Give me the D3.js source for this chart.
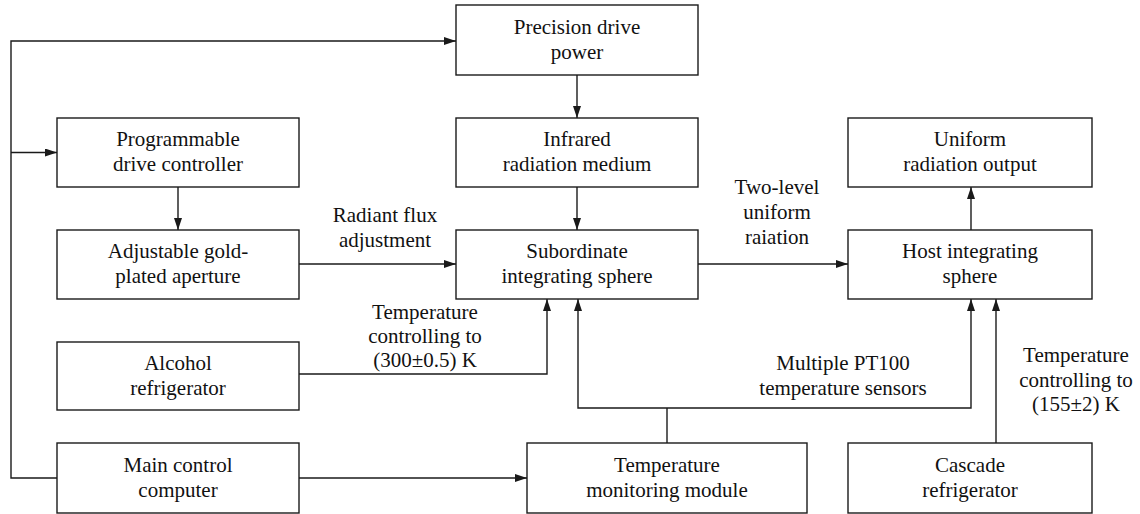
<!DOCTYPE html>
<html>
<head>
<meta charset="utf-8">
<script src="https://cdn.jsdelivr.net/npm/d3@7"></script>
<style>
  html, body { margin: 0; padding: 0; background: #fff; }
  svg { display: block; }
</style>
</head>
<body>
<svg id="chart" width="1140" height="514"></svg>
<script>
// ---- data ----
const nodeIds = ["power", "controller", "medium", "output", "aperture", "sub", "host", "alcohol", "computer", "monitor", "cascade"];
const nodeLabels = [
  ["Precision drive", "power"],
  ["Programmable", "drive controller"],
  ["Infrared", "radiation medium"],
  ["Uniform", "radiation output"],
  ["Adjustable gold-", "plated aperture"],
  ["Subordinate", "integrating sphere"],
  ["Host integrating", "sphere"],
  ["Alcohol", "refrigerator"],
  ["Main control", "computer"],
  ["Temperature", "monitoring module"],
  ["Cascade", "refrigerator"]
];
const edgeLabels = [
  ["Radiant flux", "adjustment"],
  ["Two-level", "uniform", "raiation"],
  ["Temperature", "controlling to", "(300±0.5) K"],
  ["Multiple PT100", "temperature sensors"],
  ["Temperature", "controlling to", "(155±2) K"]
];

// ---- layout (kept separate from the data) ----
const colKeys = ["c0", "c1", "c2", "cm"];
const colLeft = [57, 456, 848, 527];
const colWidth = [242, 242, 244, 280];
const rowKeys = [0, 1, 2, 3, 4];
const rowTop = [5, 118, 230, 342, 443];
const rowH = [70, 69, 69, 68, 70];
const nodeCol = ["c1", "c0", "c1", "c2", "c0", "c1", "c2", "c0", "c0", "cm", "c2"];
const nodeRow = [0, 1, 1, 1, 2, 2, 2, 3, 4, 4, 4];

const xL = d3.scaleOrdinal(colKeys, colLeft);
const xW = d3.scaleOrdinal(colKeys, colWidth);
const yT = d3.scaleOrdinal(rowKeys, rowTop);
const yH = d3.scaleOrdinal(rowKeys, rowH);

const nodes = nodeIds.map((id, i) => {
  const x = xL(nodeCol[i]), w = xW(nodeCol[i]), y = yT(nodeRow[i]), h = yH(nodeRow[i]);
  return {id, lines: nodeLabels[i], x, y, w, h, cx: x + w / 2, cy: y + h / 2, r: x + w, b: y + h};
});
const N = Object.fromEntries(nodes.map(n => [n.id, n]));

const busX = 11, topY = 41;
const tempBusY = 408;
const ctrlArrowY = N.controller.cy;
const edges = [
  {pts: [[N.computer.x, 478], [busX, 478], [busX, topY], [N.power.x, topY]], arrow: true},
  {pts: [[busX, ctrlArrowY], [N.controller.x, ctrlArrowY]], arrow: true},
  {pts: [[N.power.cx, N.power.b], [N.power.cx, N.medium.y]], arrow: true},
  {pts: [[N.controller.cx, N.controller.b], [N.controller.cx, N.aperture.y]], arrow: true},
  {pts: [[N.medium.cx, N.medium.b], [N.medium.cx, N.sub.y]], arrow: true},
  {pts: [[N.aperture.r, 264], [N.sub.x, 264]], arrow: true},
  {pts: [[N.sub.r, 264], [N.host.x, 264]], arrow: true},
  {pts: [[971, N.host.y], [971, N.output.b]], arrow: true},
  {pts: [[N.alcohol.r, 374], [547, 374], [547, N.sub.b]], arrow: true},
  {pts: [[N.computer.r, 478], [N.monitor.x, 478]], arrow: true},
  {pts: [[N.monitor.cx, N.monitor.y], [N.monitor.cx, tempBusY]], arrow: false},
  {pts: [[N.monitor.cx, tempBusY], [578, tempBusY], [578, N.sub.b]], arrow: true},
  {pts: [[N.monitor.cx, tempBusY], [971, tempBusY], [971, N.host.b]], arrow: true},
  {pts: [[996, N.cascade.y], [996, N.host.b]], arrow: true}
];

const labelPos = [
  {x: 385, y: 222, dy: 25},
  {x: 777, y: 194, dy: 25},
  {x: 425, y: 319, dy: 24},
  {x: 843, y: 370, dy: 25},
  {x: 1076, y: 362, dy: 24.5}
];

// ---- draw ----
const FONT = "'Liberation Serif', 'Times New Roman', Tinos, 'DejaVu Serif', serif";
const svg = d3.select("#chart");
const ink = "#1a1a1a";

svg.append("defs").append("marker")
  .attr("id", "arr")
  .attr("viewBox", "0 0 12 8")
  .attr("refX", 12).attr("refY", 4)
  .attr("markerWidth", 12).attr("markerHeight", 8)
  .attr("markerUnits", "userSpaceOnUse")
  .attr("orient", "auto")
  .append("path").attr("d", "M0,0 L12,4 L0,8 Z").attr("fill", ink);

const line = d3.line();
svg.append("g").selectAll("path").data(edges).join("path")
  .attr("d", d => line(d.pts))
  .attr("fill", "none")
  .attr("stroke", ink)
  .attr("stroke-width", 1.4)
  .attr("marker-end", d => d.arrow ? "url(#arr)" : null);

const g = svg.append("g").selectAll("g").data(nodes).join("g");
g.append("rect")
  .attr("x", d => d.x).attr("y", d => d.y)
  .attr("width", d => d.w).attr("height", d => d.h)
  .attr("fill", "#fff").attr("stroke", ink).attr("stroke-width", 1.4);
g.append("text")
  .attr("text-anchor", "middle")
  .style("font-family", FONT).style("font-size", "21px").attr("fill", "#111")
  .selectAll("tspan").data(d => d.lines.map((t, i) => ({t, i, d}))).join("tspan")
  .attr("x", o => o.d.cx)
  .attr("y", o => o.d.cy - 6.5 + o.i * 25)
  .text(o => o.t);

svg.append("g").selectAll("text").data(edgeLabels).join("text")
  .attr("text-anchor", "middle")
  .style("font-family", FONT).style("font-size", "21px").attr("fill", "#111")
  .each(function(lines, k) {
    const p = labelPos[k];
    d3.select(this).selectAll("tspan").data(lines).join("tspan")
      .attr("x", p.x).attr("y", (t, i) => p.y + i * p.dy)
      .text(t => t);
  });
</script>
</body>
</html>
